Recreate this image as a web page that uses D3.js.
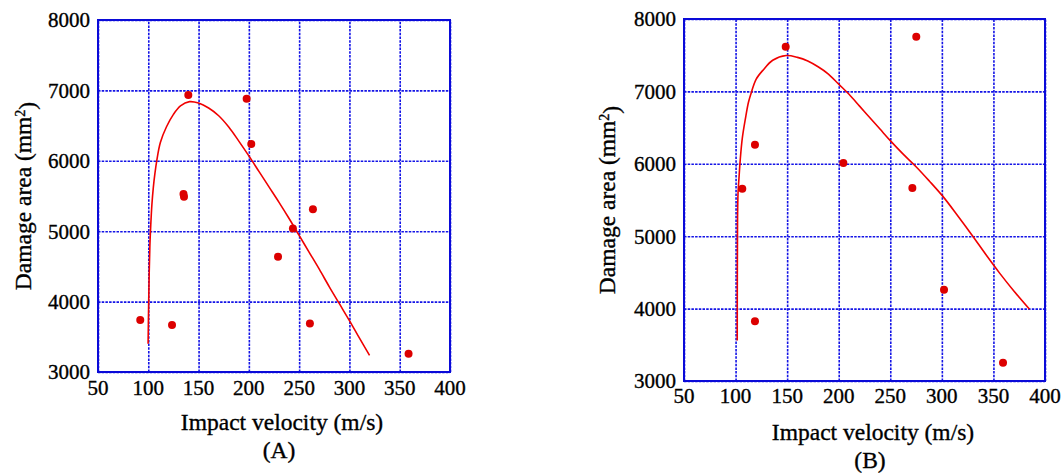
<!DOCTYPE html>
<html>
<head>
<meta charset="utf-8">
<script src="https://cdn.jsdelivr.net/npm/d3@7"></script>
<style>
  html, body { margin: 0; padding: 0; background: #fff; }
  svg { display: block; }
</style>
</head>
<body>
<svg id="chart" width="1064" height="473"></svg>
<script>
// Axis ticks (shared by both panels)
const xTicks = [50, 100, 150, 200, 250, 300, 350, 400];
const yTicks = [3000, 4000, 5000, 6000, 7000, 8000];

// Panel A: measured points
const speedA = [92, 123.6, 135, 135.5, 139.8, 197.8, 202.4, 229, 243.8, 260.7, 263.7, 358.8];
const areaA  = [3740, 3667, 5530, 5490, 6933, 6882, 6238, 4636, 5038, 3690, 5312, 3260];
// Panel A: fitted curve
const fitSpeedA = [99.8, 100.3, 100.9, 101.6, 102.5, 103.6, 105, 106.6, 108.4, 112, 118, 125, 132, 141,
                   150, 160, 170, 180, 190, 200, 210, 220, 230, 240, 250, 260, 270, 280, 290, 300, 310, 320];
const fitAreaA  = [3400, 3900, 4400, 4800, 5100, 5380, 5620, 5820, 6000, 6260, 6480, 6660, 6780, 6840,
                   6820, 6750, 6640, 6480, 6280, 6070, 5850, 5630, 5410, 5180, 4940, 4700, 4460, 4210, 3970, 3730, 3480, 3235];

// Panel B: measured points
const speedB = [106.5, 118.8, 118.8, 148.6, 204.5, 271.4, 275.2, 302.1, 359.3];
const areaB  = [5656, 6264, 3825, 7617, 6011, 5666, 7756, 4261, 3253];
// Panel B: fitted curve
const fitSpeedB = [101.6, 101.7, 101.9, 102.4, 103.3, 104.5, 106.5, 109.5, 112.5, 115.6, 120, 127, 136, 149,
                   160, 170, 180, 190, 200, 210, 220, 230, 240, 250, 262, 275, 288, 301, 315, 330, 343, 356, 370, 385];
const fitAreaB  = [3560, 4500, 5200, 5600, 5800, 6050, 6350, 6620, 6850, 7000, 7170, 7300, 7430, 7495,
                   7470, 7420, 7340, 7240, 7100, 6960, 6800, 6640, 6480, 6320, 6140, 5960, 5760, 5550, 5290, 5000, 4740, 4490, 4240, 3990];

const panels = [
  { box: { l: 98, r: 450, t: 20, b: 372 }, speed: speedA, area: areaA, fitX: fitSpeedA, fitY: fitAreaA,
    xLabY: 23, yTitleX: 31, xTitle: { x: 282, y: 430 }, tag: "(A)", tagPos: { x: 279, y: 458 } },
  { box: { l: 684, r: 1045, t: 19, b: 381 }, speed: speedB, area: areaB, fitX: fitSpeedB, fitY: fitAreaB,
    xLabY: 22, yTitleX: 615, xTitle: { x: 873, y: 440 }, tag: "(B)", tagPos: { x: 870, y: 468 } }
];

const FONT = "'Liberation Serif'";

const svg = d3.select("#chart");
const gridColor = "#1414e6";
const borderColor = "#0a0ad8";

// shared text styling (regular weight; bold falls back to a sans face here)
function txt(sel, size) {
  return sel.style("font-family", FONT).style("font-size", size + "px").attr("fill", "#000")
    .attr("stroke", "#000").attr("stroke-width", 0.35);
}

function drawPanel(p) {
  const { l, r, t, b } = p.box;
  const x = d3.scaleLinear().domain([50, 400]).range([l, r]);
  const y = d3.scaleLinear().domain([3000, 8000]).range([b, t]);
  const g = svg.append("g");

  // Grid (dotted)
  g.append("g")
    .attr("transform", `translate(0,${b})`)
    .call(d3.axisBottom(x).tickValues(xTicks).tickSize(-(b - t)).tickFormat(""))
    .call(s => s.select(".domain").remove())
    .selectAll("line")
    .attr("stroke", gridColor).attr("stroke-width", 1.6).attr("stroke-dasharray", "2.5,1.2");

  g.append("g")
    .attr("transform", `translate(${l},0)`)
    .call(d3.axisLeft(y).tickValues(yTicks).tickSize(-(r - l)).tickFormat(""))
    .call(s => s.select(".domain").remove())
    .selectAll("line")
    .attr("stroke", gridColor).attr("stroke-width", 1.6).attr("stroke-dasharray", "2.5,1.2");

  // Frame
  g.append("rect")
    .attr("x", l).attr("y", t).attr("width", r - l).attr("height", b - t)
    .attr("fill", "none").attr("stroke", borderColor).attr("stroke-width", 2);

  // Tick labels
  g.append("g")
    .selectAll("text")
    .data(xTicks)
    .join("text")
    .attr("x", d => x(d))
    .attr("y", b + p.xLabY)
    .attr("text-anchor", "middle")
    .call(txt, 21)
    .text(d => d);

  g.append("g")
    .selectAll("text")
    .data(yTicks)
    .join("text")
    .attr("x", l - 8)
    .attr("y", d => y(d))
    .attr("dy", "0.35em")
    .attr("text-anchor", "end")
    .call(txt, 21)
    .text(d => d);

  // Fitted curve
  const fit = p.fitX.map((v, i) => [v, p.fitY[i]]);
  g.append("path")
    .datum(fit)
    .attr("fill", "none")
    .attr("stroke", "#f00000")
    .attr("stroke-width", 1.6)
    .attr("d", d3.line().x(d => x(d[0])).y(d => y(d[1])).curve(d3.curveCatmullRom.alpha(0.5)));

  // Points
  g.append("g")
    .selectAll("circle")
    .data(p.speed.map((v, i) => [v, p.area[i]]))
    .join("circle")
    .attr("cx", d => x(d[0]))
    .attr("cy", d => y(d[1]))
    .attr("r", 4)
    .attr("fill", "#dc0000");

  // Axis titles
  const yt = g.append("text")
    .attr("transform", `translate(${p.yTitleX},${(t + b) / 2}) rotate(-90)`)
    .attr("text-anchor", "middle")
    .call(txt, 23.5);
  yt.append("tspan").text("Damage area (mm");
  yt.append("tspan").attr("dy", "-0.45em").style("font-size", "14px").text("2");
  yt.append("tspan").attr("dy", "0.45em").text(")");

  g.append("text")
    .attr("x", p.xTitle.x).attr("y", p.xTitle.y)
    .attr("text-anchor", "middle")
    .call(txt, 23.5)
    .text("Impact velocity (m/s)");

  g.append("text")
    .attr("x", p.tagPos.x).attr("y", p.tagPos.y)
    .attr("text-anchor", "middle")
    .call(txt, 23.5)
    .text(p.tag);
}

panels.forEach(drawPanel);
</script>
</body>
</html>
